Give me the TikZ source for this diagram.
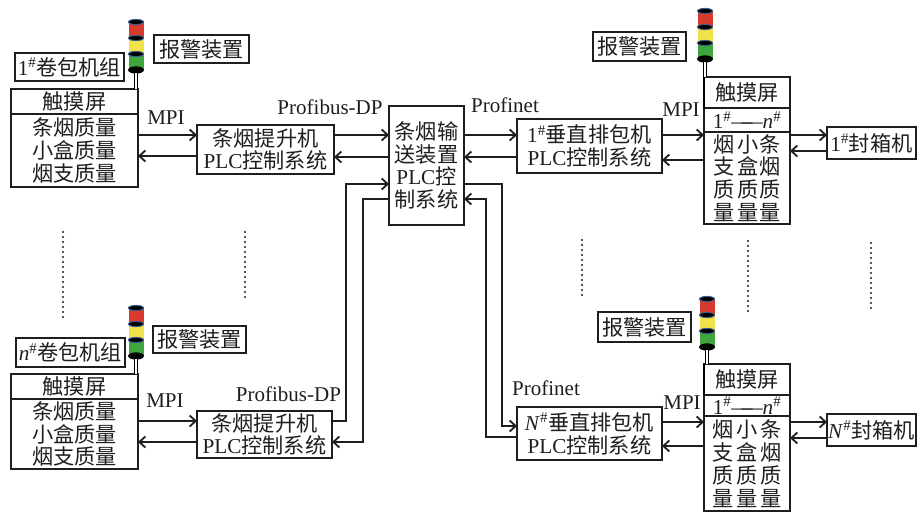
\documentclass[tikz,border=0pt]{standalone}
\usepackage{fontspec}
\setmainfont{Liberation Serif}
\newfontfamily\cjk{Noto Sans CJK SC}
\usetikzlibrary{positioning, arrows.meta, calc}
\definecolor{inkgrey}{HTML}{1E1E1E}
\definecolor{lampred}{HTML}{D93A2E}
\definecolor{lampyellow}{HTML}{F2E24A}
\definecolor{lampgreen}{HTML}{3FA53C}
\definecolor{lamprim}{HTML}{3F5E8C}
\tikzset{
  % Framed boxes
  unitbox/.style={
    draw=inkgrey, rectangle, line width=1.6pt, align=center,
    inner sep=0pt, outer sep=0pt, text=inkgrey,
    font=\fontsize{21.2}{22.8}\selectfont
  },
  % Free bus labels
  buslabel/.style={
    inner sep=0pt, text=inkgrey, font=\fontsize{21}{22}\selectfont
  },
  % Signal lines
  link/.style={
    draw=inkgrey, line width=1.6pt, -{Straight Barb[length=6pt,width=11pt,line width=1.8pt]}
  },
  % Column of dots between the lines
  dotline/.style={
    draw=inkgrey, line width=2.4pt, line cap=round, dash pattern=on 0pt off 5pt
  },
  % Lamp post
  lamppost/.style={
    draw=black, line width=1.1pt, double=white, double distance=1.8pt
  },
}
\newcommand{\zh}[1]{{\cjk #1}}
\newcommand{\alarmlamp}[3]{%
  \begin{scope}[shift={(#2,#3)}]
    \fill[lampred]    (-7.5,0)  rectangle (7.5,16);    % red
    \fill[lampyellow] (-7.5,16) rectangle (7.5,32);    % yellow
    \fill[lampgreen]  (-7.5,32) rectangle (7.5,48);    % green
    \draw[fill=black, draw=lamprim, line width=1pt] (0,0)  ellipse [x radius=7.5pt, y radius=2.6pt];
    \draw[fill=black, draw=lamprim, line width=1pt] (0,16) ellipse [x radius=7.5pt, y radius=2.6pt];
    \draw[fill=black, draw=lamprim, line width=1pt] (0,32) ellipse [x radius=7.5pt, y radius=2.6pt];
    \draw[fill=black, draw=black, line width=0.8pt] (0,48) ellipse [x radius=7.5pt, y radius=3.2pt];
    \coordinate (#1) at (0,51);
  \end{scope}
}

\begin{document}
\begin{tikzpicture}[x=1pt, y=-1pt]
  \useasboundingbox (0,0) rectangle (917,513);

  %% ── Left side, upper line ──
  \node[unitbox, minimum width=109pt, minimum height=28pt] (pack1) at (69.5,67) {1\textsuperscript{\#}\zh{卷包机组}};
  \node[unitbox, minimum width=95pt, minimum height=28pt] (alarm1) at (201.5,49) {\zh{报警装置}};
  \node[unitbox, minimum width=127pt, minimum height=25pt] (touch1) at (74.5,101.5) {\zh{触摸屏}};
  \node[unitbox, minimum width=127pt, minimum height=73pt, below=0pt of touch1] (data1) {\zh{条烟质量}\\\zh{小盒质量}\\\zh{烟支质量}};
  \node[unitbox, minimum width=137pt, minimum height=49pt] (lift1) at (265.5,149.5) {\zh{条烟提升机}\\PLC\zh{控制系统}};

  %% ── Left side, lower line ──
  \node[unitbox, minimum width=109pt, minimum height=29pt] (pack2) at (70.5,352.5) {\textit{n}\textsuperscript{\#}\zh{卷包机组}};
  \node[unitbox, minimum width=93pt, minimum height=27pt] (alarm2) at (199.5,339.5) {\zh{报警装置}};
  \node[unitbox, minimum width=127pt, minimum height=25pt] (touch2) at (74.5,386.5) {\zh{触摸屏}};
  \node[unitbox, minimum width=127pt, minimum height=70pt, below=0pt of touch2] (data2) {\zh{条烟质量}\\\zh{小盒质量}\\\zh{烟支质量}};
  \node[unitbox, minimum width=135pt, minimum height=47pt] (lift2) at (264.5,434.5) {\zh{条烟提升机}\\PLC\zh{控制系统}};

  %% ── Conveyor ──
  \node[unitbox, minimum width=75pt, minimum height=119pt] (conveyor) at (426.5,165.5) {\zh{条烟输}\\\zh{送装置}\\PLC\zh{控}\\\zh{制系统}};

  %% ── Right side, upper line ──
  \node[unitbox, minimum width=145pt, minimum height=54pt] (wrap1) at (589.5,146) {1\textsuperscript{\#}\zh{垂直排包机}\\PLC\zh{控制系统}};
  \node[unitbox, minimum width=93pt, minimum height=29pt] (alarm3) at (639.5,46.5) {\zh{报警装置}};
  \node[unitbox, minimum width=86pt, minimum height=31pt] (touch3) at (747,92.5) {\zh{触摸屏}};
  \node[unitbox, minimum width=86pt, minimum height=24pt, below=0pt of touch3] (count3) {1\textsuperscript{\#}\textemdash\kern-11pt\textemdash\textit{n}\textsuperscript{\#}};
  \node[unitbox, minimum width=86pt, minimum height=92pt, below=0pt of count3] (data3) {\zh{烟\hspace{3pt}小\hspace{0.5pt}条}\\\zh{支\hspace{3pt}盒\hspace{0.5pt}烟}\\\zh{质\hspace{3pt}质\hspace{0.5pt}质}\\\zh{量\hspace{3pt}量\hspace{0.5pt}量}};
  \node[unitbox, minimum width=89pt, minimum height=32pt] (seal1) at (871.5,143) {1\textsuperscript{\#}\zh{封箱机}};

  %% ── Right side, lower line ──
  \node[unitbox, minimum width=145pt, minimum height=53pt] (wrap2) at (589.5,433.5) {\textit{N}\textsuperscript{\#}\zh{垂直排包机}\\PLC\zh{控制系统}};
  \node[unitbox, minimum width=93pt, minimum height=30pt] (alarm4) at (644.5,327) {\zh{报警装置}};
  \node[unitbox, minimum width=86pt, minimum height=31pt] (touch4) at (747,379.5) {\zh{触摸屏}};
  \node[unitbox, minimum width=86pt, minimum height=21pt, below=0pt of touch4] (count4) {1\textsuperscript{\#}\textemdash\kern-11pt\textemdash\textit{n}\textsuperscript{\#}};
  \node[unitbox, minimum width=86pt, minimum height=95pt, below=0pt of count4] (data4) {\zh{烟\hspace{3pt}小\hspace{3pt}条}\\\zh{支\hspace{3pt}盒\hspace{3pt}烟}\\\zh{质\hspace{3pt}质\hspace{3pt}质}\\\zh{量\hspace{3pt}量\hspace{3pt}量}};
  \node[unitbox, minimum width=89pt, minimum height=32pt] (seal2) at (871.5,430) {\textit{N}\textsuperscript{\#}\zh{封箱机}};

  %% ── Bus labels ──
  \node[buslabel] (mpi1) at (166,118) {MPI};
  \node[buslabel] (mpi2) at (165,401) {MPI};
  \node[buslabel] (mpi3) at (681,110) {MPI};
  \node[buslabel] (mpi4) at (682,403) {MPI};
  \node[buslabel] (dp1) at (330,107) {Profibus-DP};
  \node[buslabel] (dp2) at (288.5,394) {Profibus-DP};
  \node[buslabel] (net1) at (505,105) {Profinet};
  \node[buslabel] (net2) at (546,388) {Profinet};

  %% ── Alarm lamps ──
  \alarmlamp{lamp1}{136}{22}
  \alarmlamp{lamp2}{136}{308}
  \alarmlamp{lamp3}{705}{11}
  \alarmlamp{lamp4}{707}{299}
  \draw[lamppost] (lamp1) -- (lamp1 |- touch1.north);
  \draw[lamppost] (lamp2) -- (lamp2 |- touch2.north);
  \draw[lamppost] (lamp3) -- (lamp3 |- touch3.north);
  \draw[lamppost] (lamp4) -- (lamp4 |- touch4.north);
  \draw[draw=black, line width=2.8pt] (touch3.north west) -- (touch3.south west);
  \draw[draw=black, line width=2.8pt] (touch4.north west) -- (touch4.south west);

  %% ── Bus corners ──
  \coordinate (busA) at (346,184);
  \coordinate (busB) at (363,199);
  \coordinate (busC) at (502,184);
  \coordinate (busD) at (486,199);

  %% ── Signal lines ──
  % Left, upper
  \draw[link] (data1.east |- 0,135) -- (lift1.west |- 0,135);
  \draw[link] (lift1.west |- 0,156) -- (data1.east |- 0,156);
  \draw[link] (lift1.east |- 0,135) -- (conveyor.west |- 0,135);
  \draw[link] (conveyor.west |- 0,157) -- (lift1.east |- 0,157);

  % Left, lower
  \draw[link] (data2.east |- 0,421) -- (lift2.west |- 0,421);
  \draw[link] (lift2.west |- 0,442) -- (data2.east |- 0,442);
  \draw[link] (lift2.east |- 0,421) -| (busA) -- (conveyor.west |- busA);
  \draw[link] (conveyor.west |- busB) -| (lift2.east -| busB) |- (lift2.east |- 0,442);

  % Right, upper
  \draw[link] (conveyor.east |- 0,135) -- (wrap1.west |- 0,135);
  \draw[link] (wrap1.west |- 0,157) -- (conveyor.east |- 0,157);
  \draw[link] (wrap1.east |- 0,135) -- (data3.west |- 0,135);
  \draw[link] (data3.west |- 0,160) -- (wrap1.east |- 0,160);
  \draw[link] (data3.east |- 0,135) -- (seal1.west |- 0,135);
  \draw[link] (seal1.west |- 0,151) -- (data3.east |- 0,151);

  % Right, lower
  \draw[link] (conveyor.east |- busC) -- (busC) |- (wrap2.west |- 0,426);
  \draw[link] (wrap2.west |- 0,437) -| (busD) -- (conveyor.east |- busD);
  \draw[link] (wrap2.east |- 0,422) -- (data4.west |- 0,422);
  \draw[link] (data4.west |- 0,446) -- (wrap2.east |- 0,446);
  \draw[link] (data4.east |- 0,422) -- (seal2.west |- 0,422);
  \draw[link] (seal2.west |- 0,438) -- (data4.east |- 0,438);

  %% ── Dots ──
  \draw[dotline] (63,232) -- (63,318);
  \draw[dotline] (245,232) -- (245,298);
  \draw[dotline] (582,240) -- (582,297);
  \draw[dotline] (748,241) -- (748,312);
  \draw[dotline] (871,243) -- (871,310);

\end{tikzpicture}
\end{document}
